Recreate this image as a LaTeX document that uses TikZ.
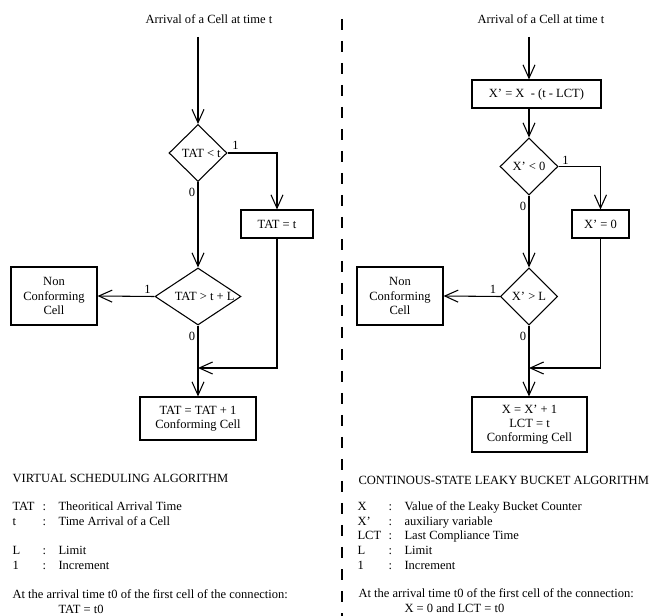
\documentclass[tikz,border=0pt]{standalone}
\usepackage{fontspec}
\setmainfont{Liberation Serif}
\usetikzlibrary{arrows.meta,shapes.geometric}

\begin{document}
\begin{tikzpicture}[x=0.75pt,y=-0.75pt,
  font=\fontsize{9.4}{10.7}\selectfont,
  line width=0.8pt,
  box/.style={draw, rectangle, inner sep=0pt, align=center},
  test/.style={draw, diamond, inner sep=0pt, minimum width=43.5pt, minimum height=42.75pt},
  flow/.style={-{Straight Barb[length=10pt,width=9pt]}},
  bit/.style={inner sep=0pt},
  txt/.style={anchor=base west, inner sep=0pt}]

\useasboundingbox (0,0) rectangle (650,616);

\draw [line width=1.5pt, dash pattern=on 8.25pt off 8.25pt] (342,19) -- (342,616);

% virtual scheduling
\node (titleL) at (209,19) {Arrival of a Cell at time t};
\coordinate (startL) at (198,37);
\node [test, label={[xshift=2.5pt]center:TAT < t}] (testL1) at (198,153) {};
\node [box, minimum width=54pt, minimum height=21pt] (tatT) at (277,224) {TAT = t};
\node [test, minimum width=64.5pt, label={[xshift=5pt]center:TAT > t + L}] (testL2) at (198,296.5) {};
\node [box, minimum width=64.5pt, minimum height=43.5pt] (nonL) at (54,296) {Non\\Conforming\\Cell};
\node [box, minimum width=87pt, minimum height=32.25pt] (confL) at (198,418.5) {TAT = TAT + 1\\Conforming Cell};
\coordinate (joinL) at (198,368);

\draw [flow] (startL) -- (testL1.north);
\draw [flow] (testL1.east) -| (tatT.north);
\draw [flow] (testL1.south) -- (testL2.north);
\draw [flow] (testL2.west) -- (nonL.east);
\draw [flow] (testL2.south) -- (confL.north);
\draw [flow] (tatT.south) |- (joinL);

\node [bit] (oneL1) at ([xshift=6pt,yshift=6pt]testL1.east) {1};
\node [bit] (zeroL1) at ([xshift=-4.5pt,yshift=-7.5pt]testL1.south) {0};
\node [bit] (oneL2) at ([xshift=-5.25pt,yshift=5.25pt]testL2.west) {1};
\node [bit] (zeroL2) at ([xshift=-4.5pt,yshift=-8.25pt]testL2.south) {0};

% continuous-state leaky bucket
\node (titleR) at (541,19) {Arrival of a Cell at time t};
\coordinate (startR) at (529,37);
\node [box, minimum width=96.75pt, minimum height=21pt] (updR) at (536.5,94) {X' = X \ - (t - LCT)};
\node [test, label={center:X' < 0}] (testR1) at (529,166.5) {};
\node [box, minimum width=42.75pt, minimum height=21pt] (zeroR) at (600.5,224) {X' = 0};
\node [test, minimum width=42.75pt, label={center:X' > L}] (testR2) at (529,296.5) {};
\node [box, minimum width=64.5pt, minimum height=43.5pt] (nonR) at (400,296) {Non\\Conforming\\Cell};
\node [box, minimum width=86.25pt, minimum height=41.25pt] (confR) at (529.5,424.5) {X = X' + 1\\LCT = t\\Conforming Cell};
\coordinate (joinR) at (529,368);

\draw [flow] (startR) -- (startR |- updR.north);
\draw [flow] (testR1.north |- updR.south) -- (testR1.north);
\draw [flow] (testR1.east) -| (zeroR.north);
\draw [flow] (testR1.south) -- (testR2.north);
\draw [flow] (testR2.west) -- (nonR.east);
\draw [flow] (testR2.south) -- (testR2.south |- confR.north);
\draw [flow] (zeroR.south) |- (joinR);

\node [bit] (oneR1) at ([xshift=5.25pt,yshift=4.5pt]testR1.east) {1};
\node [bit] (zeroR1) at ([xshift=-4.5pt,yshift=-8.25pt]testR1.south) {0};
\node [bit] (oneR2) at ([xshift=-5.25pt,yshift=5.25pt]testR2.west) {1};
\node [bit] (zeroR2) at ([xshift=-4.5pt,yshift=-8.25pt]testR2.south) {0};

% legends
\node [txt] (headL) at (12,483) {VIRTUAL SCHEDULING ALGORITHM};
\foreach \k/\d/\y in {TAT/Theoritical Arrival Time/511, t/Time Arrival of a Cell/526, L/Limit/554, 1/Increment/569}
{
\node [txt] (keyL\y) at (12,\y) {\k};
\node [txt] (colL\y) at (42,\y) {:};
\node [txt] (defL\y) at (58,\y) {\d};
}
\node [txt] (initL) at (12,598) {At the arrival time t0 of the first cell of the connection:};
\node [txt] (valL) at (58,613) {TAT = t0};

\node [txt] (headR) at (358,485) {CONTINOUS-STATE LEAKY BUCKET ALGORITHM};
\foreach \k/\d/\y in {X/Value of the Leaky Bucket Counter/511, X'/auxiliary variable/526, LCT/Last Compliance Time/540, L/Limit/554, 1/Increment/569}
{
\node [txt] (keyR\y) at (357,\y) {\k};
\node [txt] (colR\y) at (388,\y) {:};
\node [txt] (defR\y) at (404,\y) {\d};
}
\node [txt] (initR) at (358,597) {At the arrival time t0 of the first cell of the connection:};
\node [txt] (valR) at (404,612) {X = 0 and LCT = t0};
\end{tikzpicture}
\end{document}
